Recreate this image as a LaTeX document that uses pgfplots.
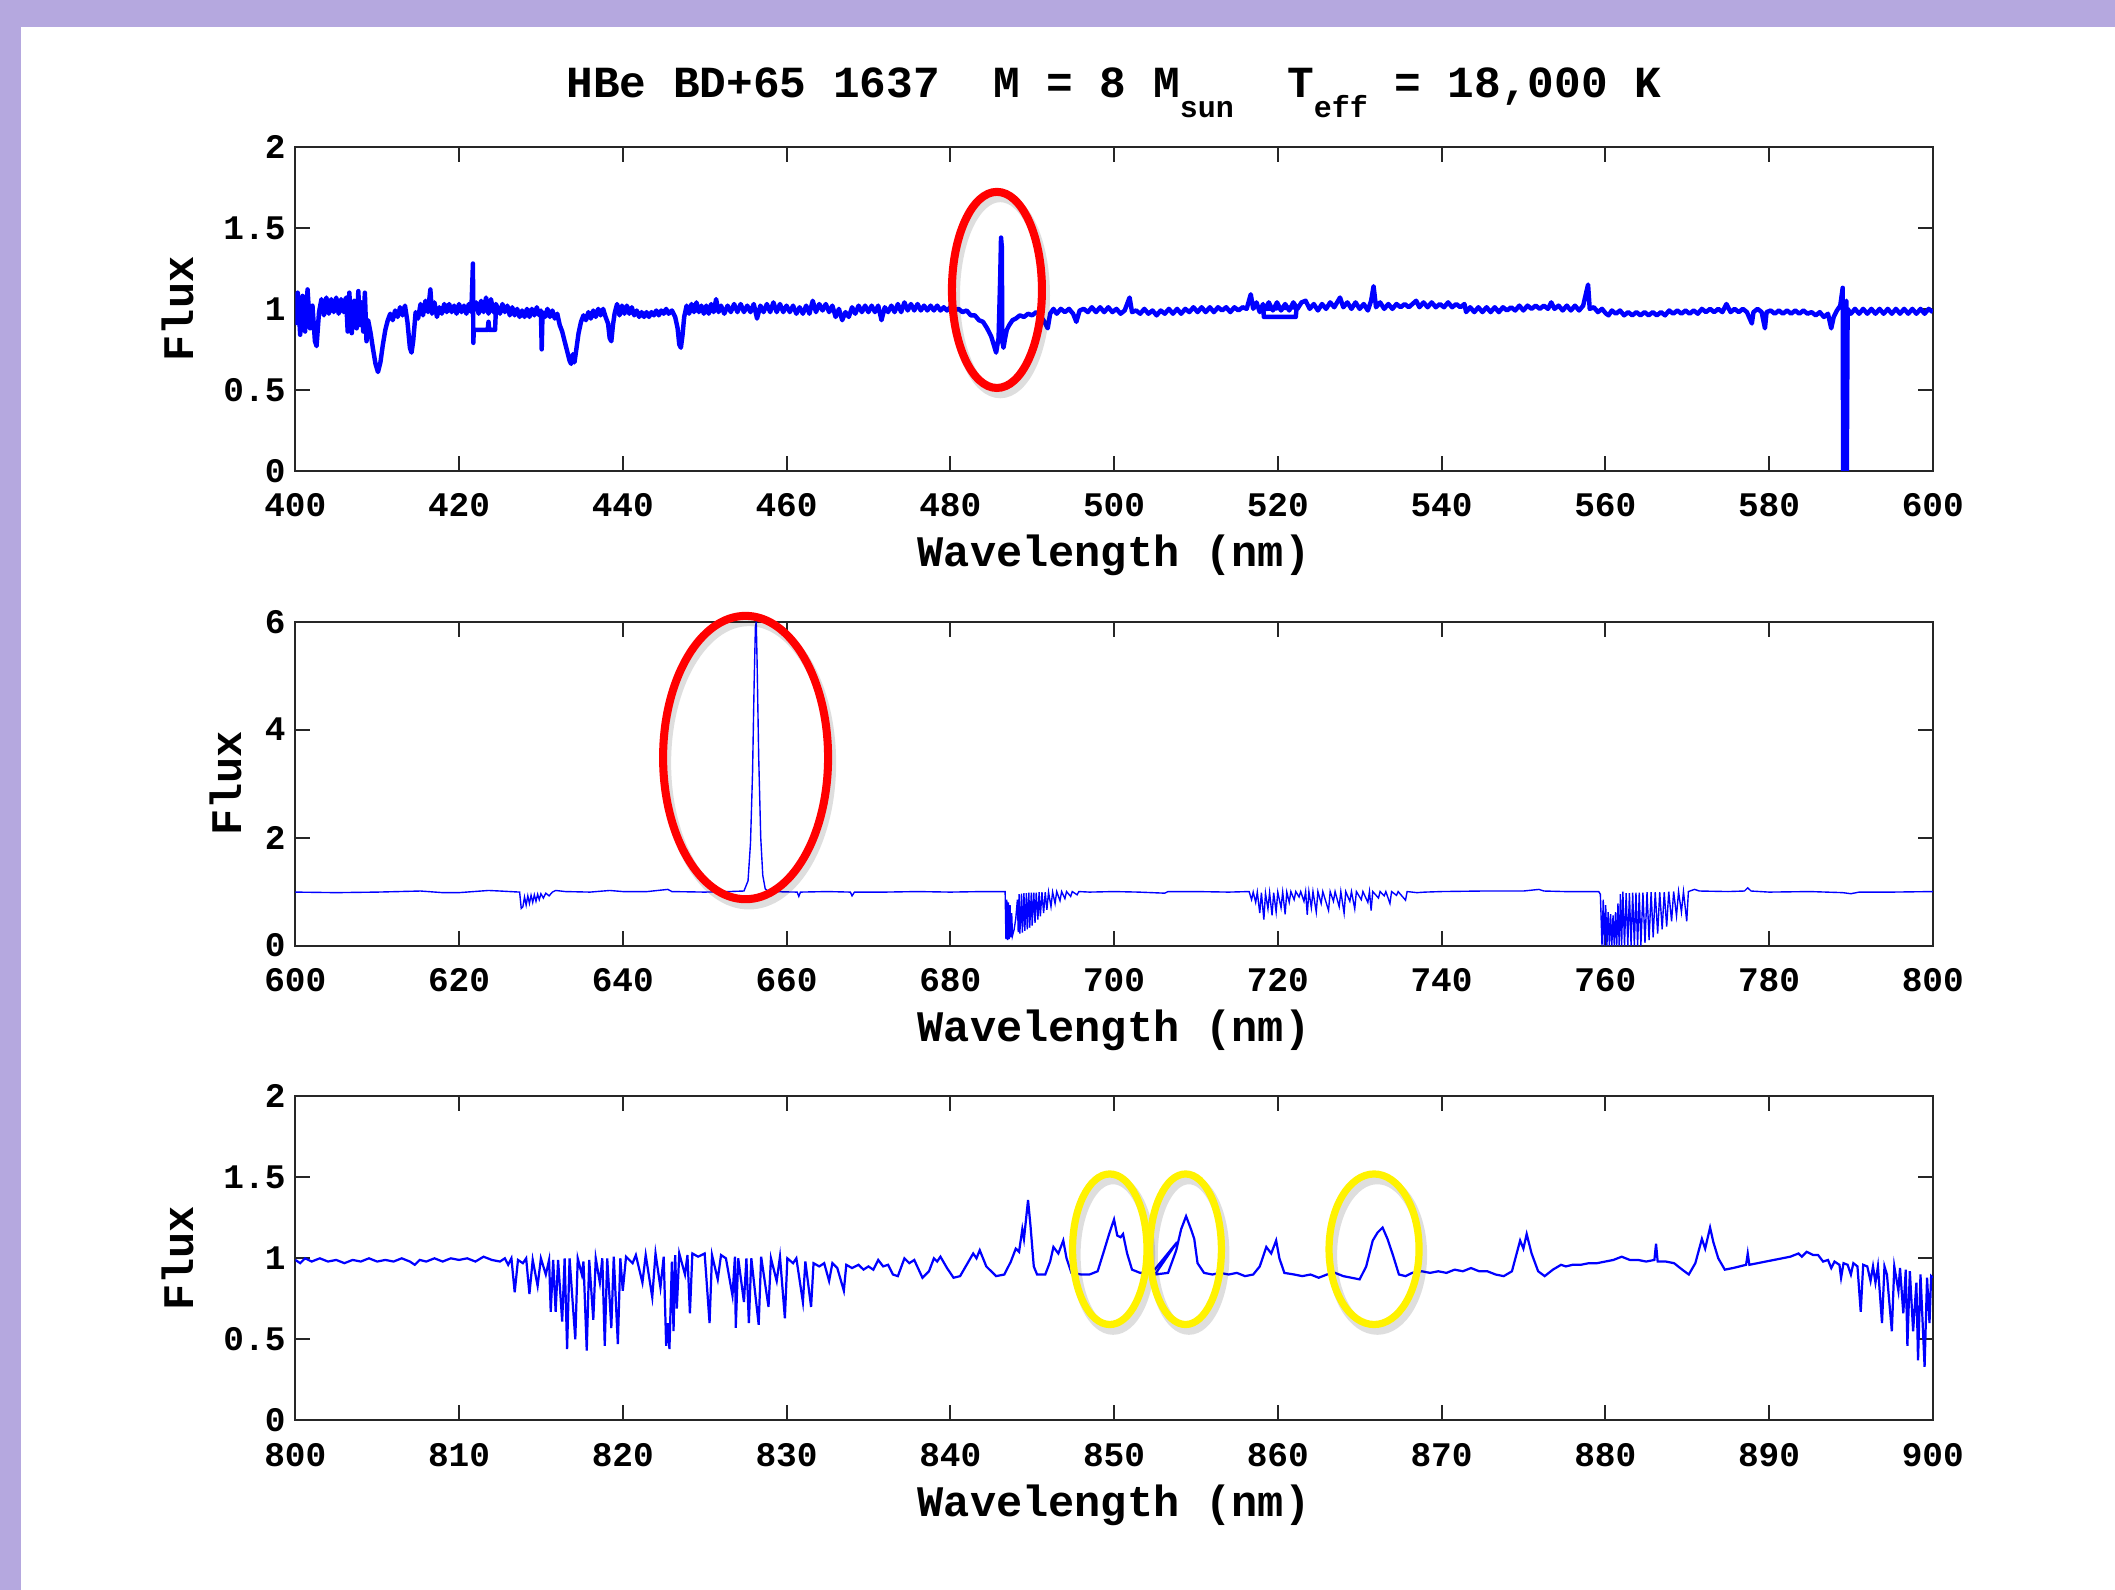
\documentclass[border=0pt]{standalone}
\usepackage{fontspec}
\setmainfont{Liberation Mono}
\usepackage{pgfplots}
\usepackage{pgfplotstable}
\pgfplotsset{compat=1.18}
\definecolor{frame}{HTML}{B5A8DF}
\definecolor{spec}{HTML}{0000FF}

% 400-600 nm
\pgfplotstableread{
x y
400.0 0.90
400.3 1.10
400.6 0.84
400.9 1.08
401.2 0.86
401.5 1.12
401.8 0.88
402.1 1.02
402.4 0.80
402.6 0.77
402.9 0.98
403.2 1.06
403.5 0.96
403.8 1.07
404.1 0.97
404.4 1.06
404.7 0.98
405.0 1.07
405.3 0.97
405.6 1.06
405.9 0.98
406.2 1.07
406.4 0.86
406.6 1.10
406.9 0.85
407.2 1.05
407.5 0.88
407.7 1.11
407.9 0.90
408.1 1.04
408.3 0.86
408.5 1.10
408.7 0.80
408.9 0.93
409.2 0.85
409.5 0.75
409.8 0.66
410.1 0.61
410.4 0.67
410.7 0.78
411.0 0.87
411.3 0.93
411.6 0.97
411.9 0.93
412.2 0.99
412.5 0.95
412.8 1.01
413.1 0.96
413.4 1.02
413.7 0.92
414.0 0.76
414.2 0.73
414.4 0.80
414.7 0.98
415.0 0.94
415.3 1.03
415.6 0.96
415.9 1.05
416.2 0.98
416.5 1.12
416.7 0.97
417.0 1.04
417.3 0.95
417.6 1.01
417.9 0.97
418.2 1.03
418.5 0.98
418.8 1.03
419.1 0.98
419.4 1.02
419.7 0.97
420.0 1.03
420.3 0.98
420.6 1.02
420.9 0.97
421.2 1.03
421.5 0.98
421.7 1.28
421.75 0.79
421.8 0.87
423.5 0.87
423.6 0.92
423.7 0.87
424.4 0.87
424.5 0.99
421.9 1.00
422.1 1.04
422.4 0.97
422.7 1.05
423.0 0.98
423.3 1.07
423.6 0.97
423.9 1.06
424.2 0.98
424.5 1.03
424.7 1.01
425.0 0.97
425.3 1.03
425.6 0.98
425.9 1.02
426.2 0.96
426.5 1.01
426.8 0.96
427.1 1.00
427.4 0.95
427.7 0.99
428.0 0.95
428.3 1.00
428.6 0.95
428.9 1.00
429.2 0.96
429.5 1.01
429.8 0.96
430.0 0.99
430.1 0.75
430.2 0.98
430.5 0.95
430.8 1.00
431.1 0.95
431.4 0.99
431.7 0.94
432.0 0.97
432.3 0.90
432.6 0.86
432.9 0.80
433.2 0.74
433.5 0.68
433.7 0.66
433.9 0.72
434.1 0.67
434.3 0.74
434.6 0.85
434.9 0.92
435.2 0.96
435.5 0.93
435.8 0.98
436.1 0.94
436.4 0.99
436.7 0.95
437.0 1.00
437.3 0.96
437.6 1.00
437.9 0.95
438.2 0.91
438.4 0.82
438.6 0.80
438.8 0.90
439.0 0.97
439.3 1.03
439.6 0.96
439.9 1.02
440.2 0.97
440.5 1.02
440.8 0.97
441.1 1.01
441.4 0.96
441.7 0.99
442.0 0.95
442.3 0.98
442.6 0.95
442.9 0.98
443.2 0.95
443.5 0.98
443.8 0.96
444.1 0.99
444.4 0.96
444.7 0.99
445.0 0.97
445.3 1.00
445.6 0.97
446.0 0.99
446.4 0.95
446.7 0.88
446.9 0.78
447.1 0.76
447.3 0.84
447.5 0.95
447.8 1.02
448.1 0.97
448.4 1.03
448.7 0.98
449.0 1.04
449.3 0.98
449.6 1.02
449.9 0.97
450.2 1.02
450.5 0.97
450.8 1.03
451.1 0.98
451.4 1.06
451.7 0.98
452.0 1.02
452.4 0.97
452.8 1.02
453.2 0.98
453.6 1.03
454.0 0.98
454.4 1.03
454.8 0.98
455.2 1.02
455.6 0.98
456.0 1.03
456.4 0.94
456.8 1.02
457.2 0.98
457.6 1.03
458.0 0.98
458.4 1.04
458.8 0.98
459.2 1.03
459.6 0.98
460.0 1.02
460.4 0.98
460.8 1.02
461.2 0.97
461.6 1.01
462.0 0.97
462.4 1.02
462.8 0.97
463.2 1.05
463.6 0.98
464.0 1.03
464.4 0.99
464.8 1.03
465.2 0.98
465.6 1.02
466.0 0.95
466.4 1.00
466.8 0.93
467.2 0.98
467.6 0.95
468.0 1.01
468.4 0.97
468.8 1.02
469.2 0.98
469.6 1.02
470.0 0.98
470.4 1.02
470.8 0.98
471.2 1.02
471.6 0.93
472.0 1.01
472.4 0.98
472.8 1.02
473.2 0.98
473.6 1.03
474.0 0.98
474.4 1.04
474.8 0.99
475.2 1.03
475.6 0.99
476.0 1.03
476.4 0.99
476.8 1.02
477.2 0.99
477.6 1.02
478.0 0.99
478.4 1.02
478.8 0.99
479.2 1.01
479.6 0.99
480.0 1.01
480.5 0.99
481.0 1.00
481.5 0.98
482.0 0.99
482.5 0.96
483.0 0.96
483.5 0.93
484.0 0.92
484.5 0.88
485.0 0.83
485.3 0.78
485.6 0.73
485.9 0.82
486.1 1.20
486.2 1.44
486.3 1.38
486.35 0.80
486.5 0.76
486.7 0.82
486.9 0.87
487.2 0.90
487.6 0.93
488.0 0.94
488.5 0.96
489.0 0.95
489.5 0.97
490.0 0.96
490.5 0.98
491.0 0.96
491.5 0.92
491.9 0.88
492.2 0.97
492.6 1.00
493.0 0.97
493.5 1.00
494.0 0.98
494.5 1.00
495.0 0.97
495.4 0.92
495.8 0.99
496.3 1.00
496.8 0.98
497.3 1.01
497.8 0.98
498.3 1.01
498.8 0.98
499.3 1.01
499.8 0.98
500.3 1.00
500.8 0.97
501.3 0.99
501.9 1.07
502.2 0.98
502.7 0.99
503.2 0.97
503.7 1.00
504.2 0.97
504.7 0.99
505.2 0.96
505.7 0.99
506.2 0.97
506.7 1.00
507.2 0.97
507.7 1.00
508.2 0.97
508.7 1.00
509.2 0.98
509.7 1.01
510.2 0.98
510.7 1.01
511.2 0.98
511.7 1.01
512.2 0.98
512.7 1.01
513.2 0.99
513.7 1.01
514.2 0.98
514.7 1.01
515.2 0.99
515.7 1.01
516.2 1.00
516.7 1.09
517.0 1.00
517.4 1.04
517.8 0.98
518.2 1.03
518.3 0.95
522.2 0.95
522.3 1.01
518.5 1.00
518.9 1.04
519.4 0.99
519.9 1.04
520.4 0.99
520.9 1.03
521.4 0.99
521.9 1.04
522.4 1.00
522.9 1.04
523.4 1.05
523.9 1.00
524.4 1.03
524.9 0.99
525.4 1.03
525.9 1.00
526.4 1.04
526.9 1.01
527.6 1.07
528.0 1.01
528.5 1.04
529.0 1.00
529.5 1.04
530.0 1.00
530.5 1.03
531.0 0.99
531.4 1.05
531.7 1.14
532.0 1.01
532.5 1.04
533.0 1.00
533.5 1.03
534.0 1.00
534.5 1.03
535.0 1.01
535.5 1.03
536.0 1.01
536.9 1.05
537.3 1.01
537.8 1.04
538.3 1.01
538.8 1.04
539.3 1.01
539.8 1.03
540.3 1.01
540.8 1.04
541.3 1.01
541.8 1.03
542.3 1.01
542.8 1.03
543.0 0.98
543.5 1.01
544.0 0.98
544.5 1.01
545.0 0.98
545.5 1.01
546.0 0.98
546.5 1.01
547.0 0.98
547.5 1.01
548.0 0.99
548.5 1.01
549.0 0.99
549.5 1.02
550.0 0.99
550.5 1.02
551.0 1.00
551.5 1.02
552.0 1.00
552.5 1.02
553.0 1.00
553.4 1.04
553.8 1.00
554.3 1.02
554.8 0.99
555.3 1.02
555.8 0.99
556.3 1.02
556.8 0.99
557.3 1.02
557.9 1.15
558.1 1.00
558.6 1.01
559.1 0.98
559.6 1.00
560.1 0.97
560.4 0.96
560.8 0.99
561.3 0.97
561.8 0.99
562.3 0.96
562.8 0.98
563.3 0.96
563.8 0.98
564.3 0.96
564.8 0.98
565.3 0.96
565.8 0.98
566.3 0.96
566.8 0.98
567.3 0.96
567.8 0.99
568.3 0.97
568.8 0.99
569.3 0.97
569.8 0.99
570.3 0.97
570.8 0.99
571.3 0.97
571.8 1.00
572.3 0.98
572.8 1.00
573.3 0.98
573.8 1.00
574.3 0.98
574.8 1.03
575.3 0.98
575.8 1.00
576.3 0.98
576.8 1.00
577.3 0.98
577.9 0.91
578.1 0.98
578.6 1.00
579.1 0.98
579.5 0.88
579.7 0.98
580.2 0.99
580.7 0.97
581.2 0.99
581.7 0.97
582.2 0.99
582.7 0.97
583.2 0.99
583.7 0.97
584.2 0.99
584.7 0.97
585.2 0.98
585.7 0.96
586.2 0.98
586.7 0.95
587.2 0.97
587.6 0.88
587.9 0.95
588.3 0.99
588.7 1.02
589.0 1.13
589.05 0.00
589.15 1.00
589.45 1.05
589.5 0.00
589.6 1.00
590.0 0.97
590.5 1.00
591.0 0.97
591.5 1.00
592.0 0.97
592.5 1.00
593.0 0.97
593.5 1.00
594.0 0.97
594.5 1.00
595.0 0.97
595.5 1.00
596.0 0.97
596.5 1.00
597.0 0.97
597.5 1.00
598.0 0.97
598.5 1.00
599.0 0.97
599.5 1.00
600.0 0.98
}\specA

% 600-800 nm
\pgfplotstableread{
x y
600.0 0.99
605.0 0.98
610.0 0.99
615.3 1.01
618.0 0.98
620.0 0.98
623.6 1.02
625.0 1.01
627.4 0.99
627.6 0.69
627.8 0.72
628.0 0.90
628.2 0.75
628.4 0.92
628.6 0.78
628.8 0.93
629.0 0.80
629.2 0.94
629.4 0.82
629.6 0.95
629.8 0.85
630.0 0.96
630.3 0.88
630.6 0.97
631.0 0.92
631.4 0.99
631.8 1.02
633.0 1.00
636.0 0.99
638.4 1.02
640.0 1.00
643.0 1.00
645.5 1.04
646.0 1.00
650.0 0.99
653.0 1.00
654.8 1.01
655.3 1.20
655.6 1.90
655.85 3.20
656.05 4.90
656.2 5.90
656.3 6.00
656.4 5.30
656.6 3.50
656.85 2.00
657.1 1.30
657.4 1.05
657.8 1.00
661.3 0.99
661.5 0.91
661.7 0.99
665.0 1.00
667.8 0.99
668.0 0.92
668.3 0.99
672.0 0.99
676.0 1.00
680.0 0.99
684.0 1.00
686.7 1.00
686.8 0.12
686.9 0.85
687.0 0.10
687.1 0.80
687.2 0.12
687.3 0.75
687.4 0.15
687.5 0.60
687.6 0.18
687.8 0.30
688.0 0.50
688.2 0.85
688.3 0.25
688.4 0.95
688.5 0.22
688.7 0.96
688.8 0.24
689.0 0.97
689.1 0.27
689.3 0.97
689.4 0.30
689.6 0.98
689.7 0.33
689.9 0.98
690.0 0.37
690.2 0.98
690.35 0.42
690.5 0.98
690.7 0.48
690.85 0.99
691.0 0.54
691.2 0.99
691.4 0.60
691.6 0.99
691.8 0.66
692.0 0.99
692.3 0.72
692.5 0.99
692.8 0.78
693.0 1.00
693.4 0.83
693.6 1.00
694.0 0.87
694.2 1.00
694.7 0.91
694.9 1.00
695.5 0.94
695.7 1.00
697.0 0.99
700.0 1.00
703.0 0.99
706.2 0.97
706.6 1.00
710.0 1.00
714.0 0.99
716.5 1.00
716.8 0.85
717.0 0.99
717.3 0.80
717.5 0.99
717.8 0.60
718.0 0.98
718.3 0.48
718.5 0.97
718.8 0.68
719.0 0.98
719.3 0.56
719.5 0.98
719.8 0.62
720.0 0.99
720.4 0.70
720.6 0.99
720.9 0.58
721.1 0.99
721.4 0.80
721.6 1.00
722.0 0.85
722.2 1.00
722.6 0.90
722.8 1.00
723.2 0.82
723.4 1.00
723.6 0.57
723.8 1.00
724.1 0.70
724.3 1.00
724.7 0.62
724.9 1.00
725.3 0.78
725.5 1.00
726.2 0.65
726.4 1.00
726.8 0.82
727.0 1.00
727.5 0.72
727.7 1.00
728.1 0.60
728.3 1.00
728.8 0.82
729.0 1.00
729.4 0.68
729.6 1.00
730.2 0.85
730.4 1.00
731.0 0.80
731.2 1.00
731.4 0.65
731.6 1.00
732.3 0.88
732.5 1.00
733.0 0.92
733.2 1.00
733.7 0.78
733.9 1.00
734.5 0.93
734.7 1.00
735.6 0.84
735.8 1.00
737.0 0.98
738.0 0.99
740.0 1.00
745.0 1.01
750.0 1.01
751.9 1.04
752.5 1.01
755.0 1.00
759.2 1.00
759.4 0.95
759.6 0.00
759.75 0.85
759.9 0.00
760.05 0.75
760.2 0.00
760.35 0.62
760.5 0.00
760.65 0.58
760.8 0.00
760.95 0.56
761.1 0.00
761.25 0.62
761.4 0.00
761.55 0.78
761.7 0.00
761.85 0.95
762.0 0.00
762.15 1.00
762.35 0.00
762.55 0.97
762.75 0.00
762.95 0.97
763.15 0.00
763.35 0.98
763.55 0.00
763.75 0.98
763.95 0.00
764.15 0.98
764.35 0.00
764.6 0.98
764.85 0.05
765.1 0.99
765.35 0.10
765.6 0.99
765.85 0.15
766.1 0.99
766.4 0.22
766.65 0.99
766.95 0.30
767.2 0.99
767.5 0.35
767.75 1.00
768.1 0.45
768.35 1.00
768.7 0.55
768.95 1.00
769.3 0.62
769.55 1.00
769.95 0.45
770.15 1.00
770.9 1.04
771.5 1.01
775.0 1.00
777.0 1.01
777.4 1.07
777.8 1.01
780.0 0.99
785.0 1.00
789.0 0.98
790.0 0.96
791.0 0.99
795.0 0.99
800.0 1.00
}\specB

% 800-900 nm
\pgfplotstableread{
x y
800.0 0.99
800.3 0.97
800.6 1.00
801.0 0.98
801.5 1.00
802.0 0.98
802.5 0.99
803.0 0.97
803.5 0.99
804.0 0.98
804.5 1.00
805.0 0.98
805.5 0.99
806.0 0.98
806.5 1.00
807.0 0.98
807.3 0.96
807.6 0.99
808.0 0.98
808.5 1.00
809.0 0.98
809.5 1.00
810.0 0.99
810.5 1.00
811.0 0.98
811.5 1.01
812.0 0.99
812.5 0.98
812.8 1.00
813.0 0.96
813.2 1.00
813.4 0.79
813.6 0.99
813.9 0.97
814.1 1.00
814.3 0.78
814.5 0.99
814.8 0.83
815.0 1.00
815.3 0.90
815.5 0.99
815.6 0.67
815.75 0.99
815.9 0.67
816.05 0.99
816.3 0.61
816.45 1.00
816.6 0.44
816.75 1.00
817.1 0.50
817.25 1.00
817.5 0.90
817.6 0.98
817.8 0.43
817.95 0.99
818.2 0.62
818.35 1.00
818.6 0.85
818.75 1.00
818.9 0.46
819.05 1.00
819.3 0.57
819.45 1.01
819.7 0.47
819.85 1.00
820.0 0.80
820.2 1.01
820.6 0.97
820.8 1.02
821.2 0.85
821.4 1.02
821.8 0.76
822.0 1.03
822.3 0.82
822.5 1.01
822.65 0.46
822.75 0.60
822.85 0.44
823.0 0.98
823.1 0.55
823.2 1.02
823.3 0.69
823.45 1.03
823.8 0.90
823.95 1.02
824.1 0.66
824.25 1.03
824.6 1.01
825.0 1.03
825.3 0.60
825.45 1.02
825.8 0.87
826.0 1.02
826.3 1.00
826.7 0.77
826.85 1.01
826.9 0.57
827.05 1.00
827.4 0.73
827.55 1.00
827.7 0.60
827.85 1.00
828.3 0.59
828.45 1.01
828.9 0.70
829.05 1.00
829.4 0.86
829.6 1.01
829.9 0.63
830.05 1.00
830.4 0.97
830.6 1.00
831.0 0.73
831.15 0.98
831.5 0.70
831.65 0.97
832.0 0.95
832.3 0.97
832.6 0.86
832.8 0.97
833.1 0.94
833.5 0.80
833.65 0.96
834.0 0.94
834.4 0.96
834.7 0.93
835.0 0.95
835.3 0.93
835.6 0.99
835.9 0.95
836.2 0.96
836.5 0.90
836.8 0.89
837.2 1.00
837.5 0.97
837.8 0.99
838.3 0.88
838.7 0.92
839.0 1.00
839.2 0.98
839.4 1.01
839.8 0.94
840.2 0.88
840.6 0.89
841.0 0.96
841.4 1.03
841.6 1.00
841.8 1.05
842.2 0.95
842.8 0.89
843.3 0.90
843.7 0.98
844.0 1.06
844.2 1.04
844.4 1.18
844.5 1.12
844.75 1.36
844.9 1.20
845.1 0.95
845.3 0.90
845.8 0.90
846.1 0.98
846.3 1.07
846.6 1.03
846.9 1.11
847.1 1.00
847.4 0.91
848.0 0.90
848.5 0.90
849.0 0.92
849.4 1.05
849.7 1.15
850.0 1.24
850.2 1.14
850.4 1.13
850.55 1.15
850.8 1.03
851.1 0.93
851.6 0.91
852.4 0.92
853.85 1.10
852.5 0.90
853.3 0.91
853.8 1.05
854.1 1.18
854.4 1.26
854.7 1.18
854.9 1.12
855.1 0.97
855.5 0.91
856.0 0.90
856.5 0.91
857.0 0.90
857.5 0.91
858.0 0.89
858.5 0.90
858.9 0.95
859.3 1.07
859.6 1.03
859.9 1.11
860.1 1.00
860.4 0.91
861.0 0.90
861.5 0.89
862.0 0.90
862.5 0.88
863.0 0.90
863.5 0.91
864.0 0.89
864.5 0.88
865.0 0.87
865.4 0.95
865.8 1.11
866.1 1.16
866.4 1.19
866.7 1.12
867.0 1.03
867.4 0.90
867.8 0.89
868.2 0.91
868.8 0.92
869.3 0.91
869.8 0.92
870.3 0.91
870.8 0.93
871.3 0.92
871.8 0.94
872.3 0.92
872.8 0.92
873.3 0.90
873.8 0.89
874.3 0.92
874.8 1.11
875.0 1.06
875.2 1.15
875.5 1.03
875.9 0.92
876.3 0.89
876.8 0.93
877.3 0.96
877.6 0.95
878.0 0.96
878.5 0.96
879.0 0.97
879.5 0.97
880.0 0.98
880.5 0.99
881.0 1.01
881.5 0.99
882.0 0.99
882.5 0.98
883.0 0.99
883.1 1.09
883.2 0.98
883.7 0.98
884.2 0.97
884.7 0.93
885.1 0.90
885.5 0.97
885.9 1.12
886.1 1.06
886.4 1.19
886.6 1.10
886.9 1.00
887.3 0.93
887.8 0.94
888.2 0.95
888.6 0.96
888.7 1.03
888.8 0.96
889.3 0.97
889.8 0.98
890.3 0.99
890.8 1.00
891.3 1.01
891.8 1.03
892.0 1.01
892.3 1.04
892.7 1.02
893.0 1.02
893.3 0.98
893.6 0.99
893.8 0.94
894.0 0.98
894.3 0.96
894.4 0.88
894.55 0.97
894.8 0.96
895.0 0.90
895.15 0.97
895.4 0.95
895.6 0.67
895.75 0.96
896.0 0.95
896.2 0.86
896.35 0.95
896.5 0.85
896.65 0.95
896.9 0.60
897.05 0.95
897.2 0.90
897.5 0.55
897.65 0.95
897.9 0.80
898.0 0.94
898.2 0.66
898.35 0.93
898.45 0.46
898.6 0.92
898.8 0.55
899.0 0.85
899.1 0.37
899.25 0.90
899.5 0.33
899.65 0.88
899.8 0.60
899.9 0.89
900.0 0.88
}\specC

\pgfplotsset{
  panel/.style={
    anchor=south west, scale only axis,
    width=589.5pt, height=116.6pt,
    axis line style={black!85, line width=0.7pt},
    every tick/.style={black!85, line width=0.7pt},
    tick align=inside, major tick length=5.4pt,
    /pgf/number format/assume math mode=true,
    /pgf/number format/1000 sep={},
    scaled ticks=false,
    tick label style={font=\bfseries\fontsize{12.4}{14}\selectfont},
    xticklabel style={anchor=base, yshift=-16.6pt},
    label style={font=\bfseries\fontsize{15.7}{18}\selectfont},
    xlabel={Wavelength (nm)}, ylabel={Flux},
    xlabel style={at={(axis description cs:0.5,0)}, anchor=base, yshift=-34.5pt},
    ylabel style={at={(axis description cs:-0.0715,0.5)}, anchor=center},
    clip mode=individual,
  },
}
\tikzset{
  ring/.style={line width=2.9pt, red},
  sunny/.style={line width=2.6pt, yellow},
  shade/.style={line width=3.4pt, black, opacity=0.13},
}

\begin{document}
\begin{tikzpicture}
\fill[frame] (0,0) rectangle (761.4pt,572.4pt);
\fill[white] (7.6pt,0) rectangle (761.4pt,562.5pt);

% panel 1
\begin{axis}[panel, at={(106.3pt,402.9pt)},
  xmin=400, xmax=600, ymin=0, ymax=2,
  xtick={400,420,...,600}, ytick={0,0.5,1,1.5,2}]
\addplot[spec, line width=1.6pt, line join=round] table {\specA};
\draw[shade] ([shift={(1.2pt,-2pt)}]axis cs:485.7,1.117) ellipse [x radius=16.2pt, y radius=35.3pt];
\draw[ring] (axis cs:485.7,1.117) ellipse [x radius=16.2pt, y radius=35.3pt];
\end{axis}

% panel 2
\begin{axis}[panel, at={(106.3pt,232.0pt)},
  xmin=600, xmax=800, ymin=0, ymax=6,
  xtick={600,620,...,800}, ytick={0,2,4,6},
  ylabel style={at={(axis description cs:-0.0425,0.5)}}]
\addplot[spec, line width=0.5pt] table {\specB};
\draw[shade] ([shift={(1.2pt,-2pt)}]axis cs:655.0,3.483) ellipse [x radius=29.7pt, y radius=51.0pt];
\draw[ring] (axis cs:655.0,3.483) ellipse [x radius=29.7pt, y radius=51.0pt];
\end{axis}

% panel 3
\begin{axis}[panel, at={(106.3pt,61.1pt)},
  xmin=800, xmax=900, ymin=0, ymax=2,
  xtick={800,810,...,900}, ytick={0,0.5,1,1.5,2}]
\addplot[spec, line width=0.8pt] table {\specC};
\draw[shade] ([shift={(1.2pt,-2pt)}]axis cs:849.74,1.056) ellipse [x radius=13.4pt, y radius=27.1pt];
\draw[sunny] (axis cs:849.74,1.056) ellipse [x radius=13.4pt, y radius=27.1pt];
\draw[shade] ([shift={(1.2pt,-2pt)}]axis cs:854.37,1.056) ellipse [x radius=12.9pt, y radius=27.1pt];
\draw[sunny] (axis cs:854.37,1.056) ellipse [x radius=12.9pt, y radius=27.1pt];
\draw[shade] ([shift={(1.2pt,-2pt)}]axis cs:865.88,1.056) ellipse [x radius=16.2pt, y radius=27.1pt];
\draw[sunny] (axis cs:865.88,1.056) ellipse [x radius=16.2pt, y radius=27.1pt];
\end{axis}

\node[anchor=base, font=\bfseries\fontsize{16}{18}\selectfont] at (401.0pt,537.2pt)
  {HBe BD+65 1637~~M = 8 M\raisebox{-7pt}{\fontsize{10.8}{12}\selectfont sun}~~T\raisebox{-7pt}{\fontsize{10.8}{12}\selectfont eff} = 18,000 K};
\end{tikzpicture}
\end{document}
